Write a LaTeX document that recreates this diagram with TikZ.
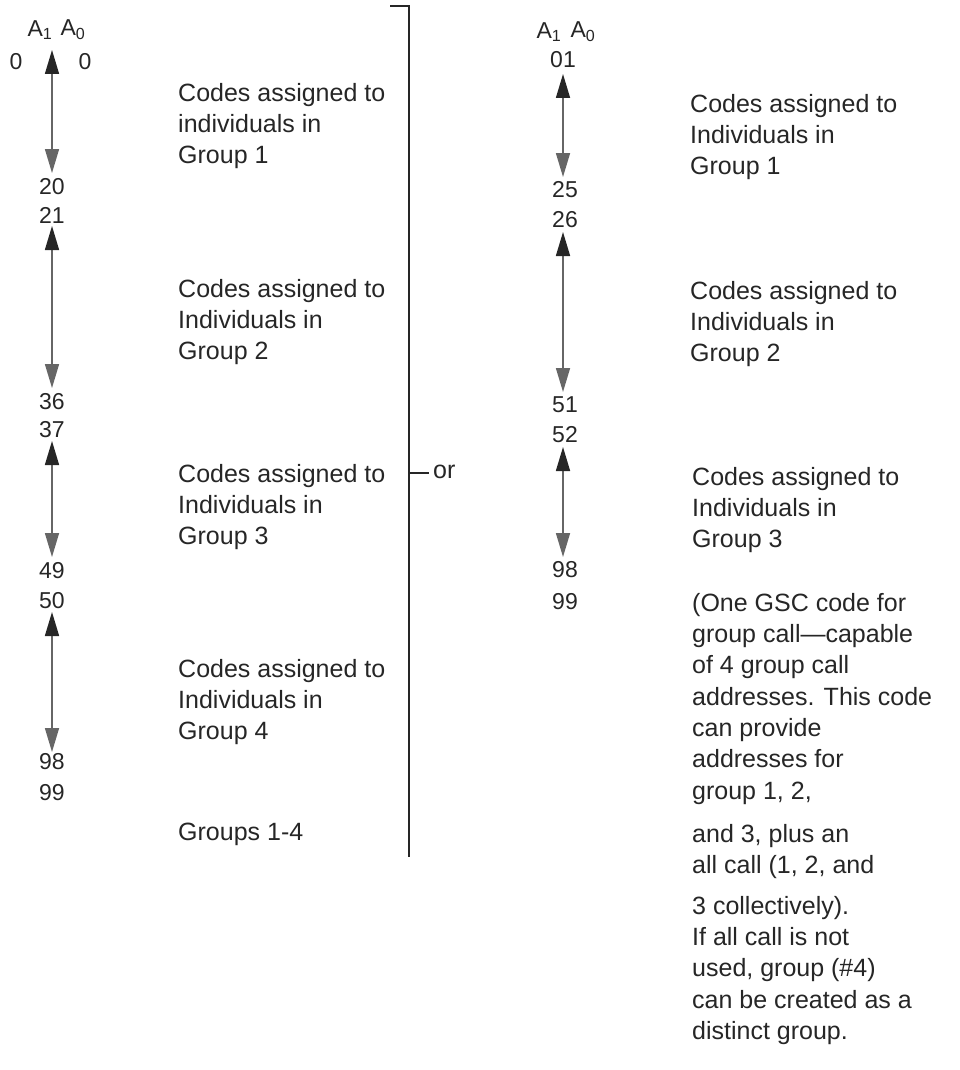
\documentclass[tikz,border=0pt]{standalone}
\usepackage{fontspec}
\setmainfont{Liberation Sans}
\usetikzlibrary{arrows.meta}
\definecolor{ink}{gray}{0.15}
\definecolor{shaft}{gray}{0.4}
\begin{document}
\begin{tikzpicture}[x=1pt,y=-1pt,
  txt/.style={font=\fontsize{25}{31.3}\selectfont, text=ink, inner sep=0pt},
  lab/.style={txt, anchor=north west, align=left},
  num/.style={font=\fontsize{23}{28}\selectfont, text=ink, inner sep=0pt, anchor=center},
  rng/.style={draw=shaft, line width=1.6pt, {Triangle[length=24pt,width=14pt,fill=ink,color=ink]}-{Triangle[length=24pt,width=14pt,fill=shaft,color=shaft]}},
  brk/.style={draw=ink, line width=1.8pt}]
\path[use as bounding box] (0,0) rectangle (960,1070);
% ---------- left column ----------
\node[num] (la1) at (40,30) {A\textsubscript{1}};
\node[num] (la0) at (73,30) {A\textsubscript{0}};
\node[num] (l0a) at (16,62) {0};
\node[num] (l0b) at (85,62) {0};
\coordinate (lt1) at (52,50);  \coordinate (lb1) at (52,173);
\node[num] (l20) at (52,187) {20};
\node[num] (l21) at (52,215) {21};
\coordinate (lt2) at (52,226); \coordinate (lb2) at (52,388);
\node[num] (l36) at (52,402) {36};
\node[num] (l37) at (52,430) {37};
\coordinate (lt3) at (52,441); \coordinate (lb3) at (52,557);
\node[num] (l49) at (52,571) {49};
\node[num] (l50) at (52,601) {50};
\coordinate (lt4) at (52,612); \coordinate (lb4) at (52,752);
\node[num] (l98) at (52,762) {98};
\node[num] (l99) at (52,793) {99};
\draw[rng] (lt1) -- (lb1);
\draw[rng] (lt2) -- (lb2);
\draw[rng] (lt3) -- (lb3);
\draw[rng] (lt4) -- (lb4);
\node[lab] (lg1) at (178,83) {Codes assigned to\\individuals in\\Group 1};
\node[lab] (lg2) at (178,279) {Codes assigned to\\Individuals in\\Group 2};
\node[lab] (lg3) at (178,464) {Codes assigned to\\Individuals in\\Group 3};
\node[lab] (lg4) at (178,659) {Codes assigned to\\Individuals in\\Group 4};
\node[lab] (lg5) at (178,823) {Groups 1-4};
% ---------- bracket ----------
\coordinate (bk0) at (390,6);
\coordinate (bk1) at (409,6);
\coordinate (bk2) at (409,857);
\coordinate (bkm) at (409,473);
\coordinate (bkt) at (429,473);
\draw[brk] (bk0) -- (bk1) -- (bk2);
\draw[brk] (bkm) -- (bkt);
\node[txt, anchor=west] (or) at (433,472) {or};
% ---------- right column ----------
\node[num] (ra1) at (549,32) {A\textsubscript{1}};
\node[num] (ra0) at (583,32) {A\textsubscript{0}};
\node[num] (r01) at (563,60) {01};
\coordinate (rt1) at (563,74);  \coordinate (rb1) at (563,177);
\node[num] (r25) at (565,190) {25};
\node[num] (r26) at (565,220) {26};
\coordinate (rt2) at (563,232); \coordinate (rb2) at (563,392);
\node[num] (r51) at (565,405) {51};
\node[num] (r52) at (565,435) {52};
\coordinate (rt3) at (563,447); \coordinate (rb3) at (563,557);
\node[num] (r98) at (565,570) {98};
\node[num] (r99) at (565,602) {99};
\draw[rng] (rt1) -- (rb1);
\draw[rng] (rt2) -- (rb2);
\draw[rng] (rt3) -- (rb3);
\node[lab] (rg1) at (690,94) {Codes assigned to\\Individuals in\\Group 1};
\node[lab] (rg2) at (690,281) {Codes assigned to\\Individuals in\\Group 2};
\node[lab] (rg3) at (692,467) {Codes assigned to\\Individuals in\\Group 3};
\node[lab] (rg4) at (692,593) {(One GSC code for\\group call---capable\\of 4 group call\\addresses. This code\\can provide\\addresses for\\group 1, 2,};
\node[lab] (rg5) at (692,824) {and 3, plus an\\all call (1, 2, and};
\node[lab] (rg6) at (692,896) {3 collectively).\\If all call is not\\used, group (\#4)\\can be created as a\\distinct group.};
\end{tikzpicture}
\end{document}
